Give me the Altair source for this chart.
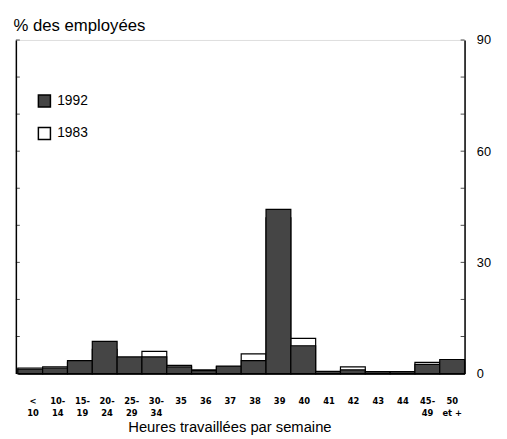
import altair as alt
import pandas as pd

categories = ["<\n10", "10-\n14", "15-\n19", "20-\n24", "25-\n29", "30-\n34", "35", "36", "37",
              "38", "39", "40", "41", "42", "43", "44", "45-\n49", "50\net +"]
v1992 = [1.2, 1.5, 3.5, 8.7, 4.5, 4.5, 1.8, 0.8, 2.0, 3.5, 44.3, 7.5, 0.6, 1.0, 0.5, 0.5, 2.5, 3.8]
v1983 = [1.5, 1.8, 3.0, 6.5, 4.0, 6.0, 2.2, 1.0, 1.8, 5.3, 42.0, 9.5, 0.5, 1.8, 0.5, 0.5, 3.0, 3.0]
years = ["1992", "1983"]
y_ticks = [0, 30, 60, 90]
minor_ticks = [10, 20, 30, 40, 50, 60, 70, 80, 90]

W, H = 456, 339
FONT = "Liberation Sans"

df = pd.DataFrame({
    "cat": categories * 2,
    "year": ["1992"] * len(categories) + ["1983"] * len(categories),
    "value": v1992 + v1983,
})
lab_df = pd.DataFrame({"cat": categories})
tick_df = pd.DataFrame({"t": minor_ticks})

xsc = alt.Scale(domain=categories, range=[2, W], paddingInner=0, paddingOuter=0)
ysc = alt.Scale(domain=[0, 90], nice=False)
fillsc = alt.Scale(domain=years, range=["#454545", "#ffffff"])

b83 = alt.Chart(df).transform_filter("datum.year == '1983'").mark_bar(
    stroke="black", strokeWidth=1.2
).encode(
    x=alt.X("cat:N", sort=categories, scale=xsc,
            axis=alt.Axis(labels=False, ticks=False, domain=True, domainColor="black",
                          domainWidth=1.2,
                          title="Heures travaillées par semaine", titleX=217, titleY=59,
                          titleAlign="center", titleBaseline="alphabetic", titleFont=FONT,
                          titleFontSize=15, titleFontWeight="normal", titleColor="black")),
    y=alt.Y("value:Q", scale=ysc,
            axis=alt.Axis(orient="left", values=y_ticks, ticks=False, grid=False,
                          domainColor="black", domainWidth=1.5, labelPadding=13,
                          labelFont=FONT, labelFontSize=13, labelColor="black",
                          title="% des employées", titleAngle=0, titleAlign="left",
                          titleBaseline="alphabetic", titleX=-3, titleY=-10,
                          titleFont=FONT, titleFontSize=17, titleFontWeight="normal",
                          titleColor="black")),
    fill=alt.Fill("year:N", scale=fillsc,
                  legend=alt.Legend(orient="none", legendX=22, legendY=55, title=None,
                                    symbolType="square", symbolSize=150,
                                    symbolStrokeColor="black", symbolStrokeWidth=1.5,
                                    labelFont=FONT, labelFontSize=14, labelColor="black",
                                    labelOffset=6, rowPadding=13, padding=0)),
)

b92 = alt.Chart(df).transform_filter("datum.year == '1992'").mark_bar(
    stroke="black", strokeWidth=1.2
).encode(
    x=alt.X("cat:N", sort=categories, scale=xsc, axis=None),
    y=alt.Y("value:Q", scale=ysc,
            axis=alt.Axis(orient="right", values=y_ticks, ticks=False, grid=False,
                          domainColor="black", domainWidth=1.5, labelPadding=12,
                          labelFont=FONT, labelFontSize=13, labelColor="black", title=None)),
    fill=alt.Fill("year:N", scale=fillsc),
)

labels = alt.Chart(lab_df).mark_text(
    lineBreak="\n", font="DejaVu Sans", fontWeight="bold", fontSize=8.5,
    baseline="alphabetic", align="center", lineHeight=12, color="black"
).encode(
    x=alt.X("cat:N", sort=categories,
            scale=alt.Scale(domain=categories, range=[5, W], paddingInner=0, paddingOuter=0),
            axis=None),
    y=alt.value(H + 31),
    text="cat:N",
)

lticks = alt.Chart(tick_df).mark_tick(orient="horizontal", size=4, thickness=1, color="black").encode(
    y=alt.Y("t:Q", scale=ysc, axis=None), x=alt.value(2)
)
rticks = alt.Chart(tick_df).mark_tick(orient="horizontal", size=4, thickness=1, color="black").encode(
    y=alt.Y("t:Q", scale=ysc, axis=None), x=alt.value(W - 2)
)

chart = alt.layer(b83, b92, labels, lticks, rticks).resolve_scale(
    x="independent"
).resolve_axis(y="independent").properties(
    width=W, height=H,
    autosize=alt.AutoSizeParams(type="none"),
    padding={"left": 8, "top": 29, "right": 35, "bottom": 63},
).configure_view(stroke=None).configure(background="white")

chart.save("out.html", embed_options={"renderer": "svg", "actions": False})
